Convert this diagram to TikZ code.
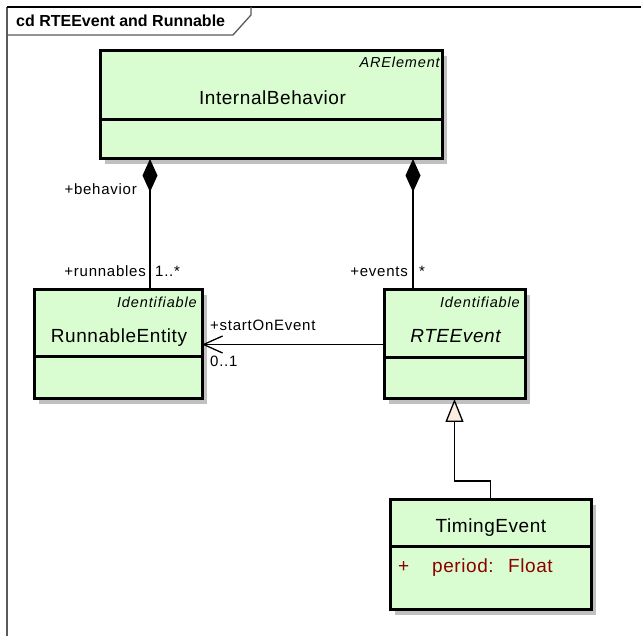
\documentclass[tikz,border=0pt]{standalone}
\usepackage{fontspec}
\setmainfont{Liberation Sans}
\newfontfamily\namefont{Liberation Sans}[LetterSpace=3]
\newfontfamily\labelfont{Liberation Sans}[LetterSpace=5]
\newfontfamily\stereofont{Liberation Sans}[LetterSpace=6]
\usetikzlibrary{arrows.meta,shadows}

\definecolor{classfill}{RGB}{217,253,208}
\definecolor{shadowgray}{RGB}{192,192,192}
\definecolor{attrred}{RGB}{140,0,0}
\definecolor{genfill}{RGB}{250,238,224}
\definecolor{framegray}{RGB}{90,90,90}

\tikzset{
  classbox/.style={draw=black, line width=3pt, fill=classfill, anchor=north west,
    inner sep=0pt, outer sep=0pt,
    drop shadow={shadow xshift=5pt, shadow yshift=-5pt, fill=shadowgray, opacity=1}},
  divider/.style={line width=3pt},
  classname/.style={font=\namefont\fontsize{19}{22}\selectfont, inner sep=0pt, anchor=base},
  stereotype/.style={font=\stereofont\itshape\fontsize{14.5}{17}\selectfont, inner sep=0pt, anchor=base east},
  rolelabel/.style={font=\labelfont\fontsize{15}{18}\selectfont, inner sep=0pt},
  attribute/.style={font=\namefont\fontsize{19}{22}\selectfont, text=attrred, inner sep=0pt, anchor=base west},
  connector/.style={line width=1.3pt},
  composition/.style={connector, {Diamond[length=33pt, width=15pt]}-},
  association/.style={connector, -{Straight Barb[length=19pt, width=17pt, line width=1.3pt]}},
  generalization/.style={connector, -{Triangle[length=23pt, width=18pt, fill=genfill, line width=1.3pt]}},
}

\begin{document}
\begin{tikzpicture}[x=1pt, y=-1pt]
\useasboundingbox (0,0) rectangle (641,636);

% diagram frame and its name tab
\draw[line width=1.5pt, framegray] (7,7) -- (7,636);
\draw[line width=1.5pt] (7,7) -- (641,7);
\draw[line width=1.3pt, framegray] (7,35) -- (233,35) -- (251,15) -- (251,7);
\node[font=\bfseries\fontsize{16}{19}\selectfont, inner sep=0pt, anchor=base west] (title) at (16,27) {cd RTEEvent and Runnable};

% InternalBehavior
\node[classbox, minimum width=342pt, minimum height=108pt] (ib) at (100,51) {};
\draw[divider] (100,120) -- (442,120);
\node[stereotype] (ibst) at (440,68) {ARElement};
\node[classname] (ibname) at (272.5,105) {InternalBehavior};

% RunnableEntity
\node[classbox, minimum width=168pt, minimum height=109pt] (re) at (34,290) {};
\draw[divider] (34,357) -- (202,357);
\node[stereotype] (rest) at (197,308) {Identifiable};
\node[classname] (rename) at (119,343) {RunnableEntity};

% RTEEvent (abstract)
\node[classbox, minimum width=141pt, minimum height=109pt] (rte) at (384,290) {};
\draw[divider] (384,358) -- (525,358);
\node[stereotype] (rtest) at (520,308) {Identifiable};
\node[classname, font=\namefont\itshape\fontsize{19}{22}\selectfont] (rtename) at (455.5,343) {RTEEvent};

% TimingEvent
\node[classbox, minimum width=201pt, minimum height=110pt] (te) at (390,500) {};
\draw[divider] (390,547) -- (591,547);
\node[classname] (tename) at (491,533) {TimingEvent};
\node[attribute] (teattr) at (398,573) {\makebox[34pt][l]{+}\makebox[76pt][l]{period:}Float};

% compositions
\draw[composition] (ib.south -| 150,0) -- (re.north -| 150,0);
\draw[composition] (ib.south -| 413,0) -- (rte.north -| 413,0);
\node[rolelabel, anchor=base east] (lbeh) at (137,195) {+behavior};
\node[rolelabel, anchor=base east] (lrun) at (146,277) {+runnables};
\node[rolelabel, anchor=base west] (lrunm) at (155,277) {1..*};
\node[rolelabel, anchor=base east] (levt) at (408,277) {+events};
\node[rolelabel, anchor=base west] (levtm) at (419,277) {*};

% association
\draw[association] (rte.west) -- (re.east);
\node[rolelabel, anchor=base west] (lstart) at (210,331) {+startOnEvent};
\node[rolelabel, anchor=base west] (lstartm) at (210,367) {0..1};

% generalization
\draw[generalization] (te.north) -- ++(0,-19) -| (rte.south);
\end{tikzpicture}
\end{document}
